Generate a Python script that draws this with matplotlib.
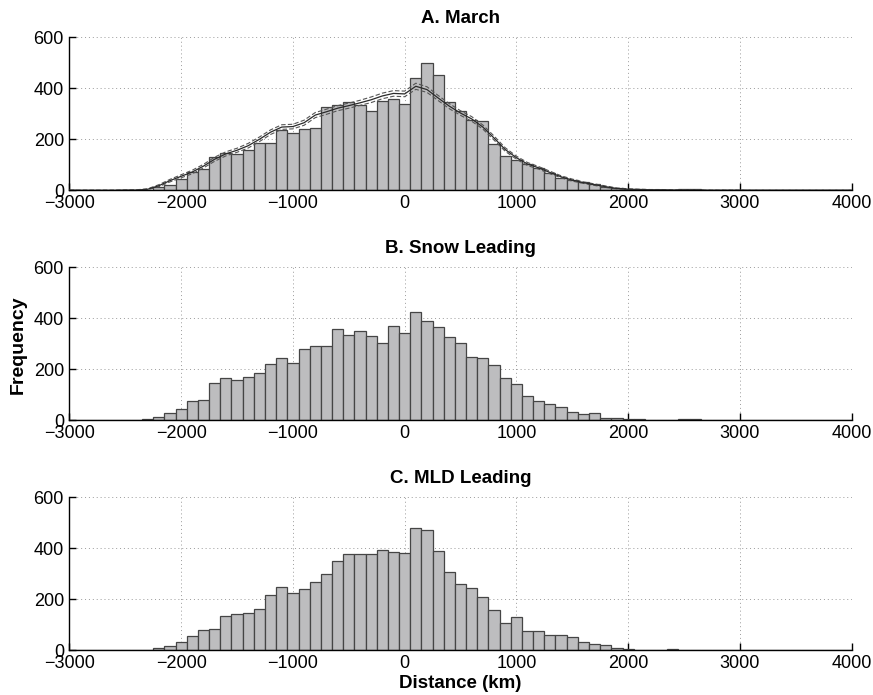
import numpy as np
import matplotlib
matplotlib.use('Agg')
import matplotlib.pyplot as plt

plt.rcParams['font.family'] = ['Liberation Sans', 'DejaVu Sans']

# bin centres, km (100 km bins)
centers = np.arange(-3000, 4001, 100)

march = [0, 0, 0, 0, 0, 1, 1, 2, 14, 20, 44, 71, 82, 129, 148, 141, 158, 184, 184, 237,
         225, 240, 243, 325, 333, 345, 336, 310, 349, 357, 338, 439, 500, 452, 346, 311,
         276, 271, 180, 133, 118, 102, 86, 69, 47, 39, 34, 26, 14, 8, 5, 4, 3, 2, 1, 5,
         5, 1, 0, 0, 0, 0, 0, 0, 0, 0, 0, 0, 0, 0, 0]

snow = [0, 0, 0, 0, 0, 0, 1, 4, 12, 27, 46, 76, 80, 148, 166, 157, 169, 187, 221, 243,
        224, 281, 293, 290, 357, 336, 349, 329, 302, 370, 342, 426, 388, 367, 328, 303,
        247, 246, 216, 165, 141, 94, 75, 63, 51, 31, 24, 27, 8, 8, 4, 6, 3, 3, 3, 4,
        6, 0, 0, 2, 0, 0, 0, 0, 0, 0, 0, 0, 0, 0, 0]

mld = [0, 0, 0, 0, 0, 0, 0, 0, 8, 16, 33, 58, 78, 82, 135, 141, 146, 163, 216, 247,
       224, 242, 267, 298, 352, 379, 376, 376, 393, 384, 383, 481, 472, 391, 306, 261,
       246, 210, 158, 106, 131, 75, 77, 61, 61, 51, 31, 24, 20, 8, 4, 3, 3, 0, 4, 0,
       0, 0, 0, 0, 0, 0, 0, 0, 0, 0, 0, 0, 0, 0, 0]

# March: ensemble mean curve and bounds
march_mean = [0, 0, 0, 0, 0, 1, 1, 4, 18, 38, 55, 72, 95, 122, 143, 157, 175, 200, 228, 248,
              250, 265, 295, 308, 322, 332, 343, 355, 370, 380, 378, 408, 395, 362, 330, 303,
              280, 248, 205, 160, 128, 103, 88, 70, 53, 40, 30, 22, 14, 7, 4, 3, 2, 2, 1, 1,
              1, 0, 0, 0, 0, 0, 0, 0, 0, 0, 0, 0, 0, 0, 0]
march_hi = [0, 0, 0, 0, 0, 1, 2, 6, 22, 43, 61, 79, 102, 130, 151, 165, 184, 209, 237, 257,
            259, 275, 305, 318, 332, 342, 353, 366, 381, 391, 389, 420, 406, 372, 340, 312,
            289, 256, 213, 167, 134, 109, 93, 75, 57, 44, 33, 25, 17, 9, 6, 4, 3, 3, 2, 2,
            2, 1, 1, 1, 1, 0, 0, 0, 0, 0, 0, 0, 0, 0, 0]
march_lo = [0, 0, 0, 0, 0, 0, 0, 2, 14, 33, 49, 65, 88, 114, 135, 149, 166, 191, 219, 239,
            241, 255, 285, 298, 312, 322, 333, 344, 359, 369, 367, 396, 384, 352, 320, 294,
            271, 240, 197, 153, 122, 97, 83, 65, 49, 36, 27, 19, 11, 5, 2, 2, 1, 1, 0, 0,
            0, 0, 0, 0, 0, 0, 0, 0, 0, 0, 0, 0, 0, 0, 0]

titles = ['A. March', 'B. Snow Leading', 'C. MLD Leading']
series = [march, snow, mld]

fig = plt.figure(figsize=(8.73, 6.95), dpi=100)
left, width, height = 0.0796, 0.8958, 0.2201
bottoms = [0.7262, 0.3953, 0.0643]

for i in range(3):
    ax = fig.add_axes([left, bottoms[i], width, height])
    ax.set_axisbelow(True)
    ax.grid(True, linestyle=(0, (1, 3)), color='#9a9a9a', linewidth=0.7)
    ax.bar(centers, series[i], width=100, color='#bdbdbf', edgecolor='#454545',
           linewidth=0.9, zorder=2)
    if i == 0:
        ax.plot(centers, march_hi, color='#555555', lw=0.8, dashes=(4, 2), zorder=3)
        ax.plot(centers, march_lo, color='#555555', lw=0.8, dashes=(4, 2), zorder=3)
        ax.plot(centers, march_mean, color='#2a2a2a', lw=0.9, zorder=4)
    ax.set_xlim(-3000, 4000)
    ax.set_ylim(0, 600)
    ax.set_xticks(range(-3000, 4001, 1000))
    ax.set_yticks([0, 200, 400, 600])
    ax.spines['top'].set_visible(False)
    ax.spines['right'].set_visible(False)
    ax.spines['left'].set_linewidth(1.0)
    ax.spines['bottom'].set_linewidth(1.0)
    ax.tick_params(direction='in', length=5, width=1.0, labelsize=13)
    ax.tick_params(axis='x', pad=3.5)
    ax.tick_params(axis='y', pad=4)
    ax.set_title(titles[i], fontweight='bold', fontsize=13.5, pad=10)

fig.text(0.021, 0.5036, 'Frequency', rotation=90, ha='center', va='center',
         fontweight='bold', fontsize=14)
fig.text(0.527, 0.016, 'Distance (km)', ha='center', va='center',
         fontweight='bold', fontsize=13.5)

fig.savefig('out.png', dpi=100)
